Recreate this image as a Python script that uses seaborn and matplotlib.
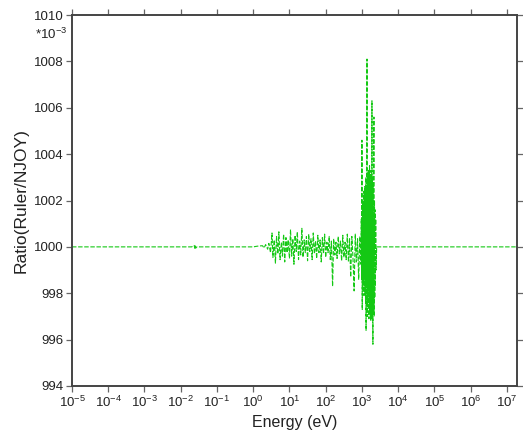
import numpy as np
import pandas as pd
import seaborn as sns
import matplotlib
matplotlib.use("Agg")
import matplotlib.pyplot as plt
from matplotlib.ticker import FixedLocator, NullLocator, FixedFormatter

# Thermal / low-energy points (eV) and ratio (x 1e-3)
energy_low = [1e-5, 1e-3, 0.02, 0.0235, 0.0245, 0.0253, 0.026, 0.028, 0.1, 1.0, 1.3]
ratio_low = [1000.0, 1000.0, 1000.0, 1000.06, 999.94, 1000.06, 999.95, 1000.0, 1000.0, 1000.0, 1000.03]

# Resolved resonance region
energy_res = [1.8, 2.0, 2.2, 2.5, 2.7, 3.0, 3.3, 3.5, 3.8, 4.1,
              4.4, 4.8, 5.1, 5.5, 6.0, 6.4, 6.9, 7.4, 8.0, 8.6,
              9.2, 10, 10.7, 11.5, 12.4, 13.3, 14.3, 15.4, 16.5, 17.8,
              19.1, 20.5, 22, 23.7, 25.5, 27.4, 29.4, 31.6, 34, 36.5,
              39.3, 42.2, 45.4, 48.8, 52.5, 56.4, 60.6, 65.2, 70.1, 75.3,
              81, 87, 93.5, 100, 108, 116, 125, 134, 144, 155,
              166, 179, 192, 206, 222, 238, 256, 275, 296, 318,
              342, 367, 395, 425, 456, 490, 527, 567, 609, 655,
              704, 757, 813, 875, 940]
ratio_res = [1000.05, 999.95, 1000.1, 999.9, 1000.15, 999.75, 1000.6, 999.55, 1000.3, 999.3,
             1000.45, 999.7, 1000.65, 999.45, 1000.2, 999.6, 1000.55, 999.35, 1000.4, 999.75,
             1000.3, 999.5, 1000.75, 999.6, 1000.35, 999.25, 1000.5, 999.8, 1000.65, 999.45,
             1000.25, 999.65, 1000.8, 999.55, 1000.3, 999.75, 1000.45, 999.4, 1000.55, 999.8,
             1000.35, 999.45, 1000.6, 999.7, 1000.25, 999.5, 1000.5, 999.75, 1000.3, 999.35,
             1000.4, 999.7, 1000.55, 999.55, 1000.2, 999.75, 1000.45, 999.45, 1000.25, 998.3,
             1000.35, 999.65, 1000.2, 999.5, 1000.45, 999.7, 1000.25, 999.4, 1000.5, 999.55,
             1000.2, 999.45, 1000.55, 999.35, 1000.35, 998.7, 1000.45, 999.5, 998.1, 1000.55,
             999.35, 1000.35, 998.6, 1000.45, 999.25]

# Upper resonance region (dense structure near 1-2.5 keV)
energy_hi = [960, 980, 1000, 1020, 1040, 1060, 1080, 1100, 1120, 1140,
             1160, 1180, 1200, 1220, 1240, 1260, 1280, 1300, 1320, 1340,
             1360, 1380, 1400, 1420, 1440, 1460, 1480, 1500, 1520, 1540,
             1560, 1580, 1600, 1620, 1640, 1660, 1680, 1700, 1720, 1740,
             1760, 1780, 1800, 1830, 1860, 1890, 1920, 1950, 1980, 2010,
             2040, 2070, 2100, 2140, 2180, 2220, 2260, 2300, 2350, 2400,
             2450]
ratio_hi = [1001.2, 998.6, 1004.6, 997.3, 1002.0, 998.2, 1001.8, 998.5, 1002.4, 997.9,
            1001.5, 998.8, 1002.6, 998.0, 1002.2, 997.6, 1003.0, 996.4, 1002.5, 998.3,
            1003.4, 1008.1, 997.0, 1002.8, 998.0, 1003.2, 997.4, 1002.6, 998.2, 1003.3,
            996.9, 1002.9, 997.8, 1003.5, 997.2, 1002.7, 998.0, 1003.1, 997.0, 1002.5,
            996.8, 1003.3, 997.5, 1002.8, 997.1, 1006.3, 996.9, 1003.0, 997.4, 995.8,
            1002.6, 997.2, 1002.9, 1005.6, 997.0, 1002.0, 997.8, 1001.6, 998.3, 1001.2,
            999.0]

# Fast region
energy_fast = [2550, 1e4, 1e7, 2e7]
ratio_fast = [1000.0, 1000.0, 1000.0, 1000.0]

xtick_vals = [10.0 ** k for k in range(-5, 8)]
xtick_labels = [r"$10^{%d}$" % k for k in range(-5, 8)]
ytick_vals = [994, 996, 998, 1000, 1002, 1004, 1006, 1008, 1010]

df = pd.DataFrame({
    "energy": energy_low + energy_res + energy_hi + energy_fast,
    "ratio": ratio_low + ratio_res + ratio_hi + ratio_fast,
})

sns.set_style("ticks")
plt.rcParams["font.family"] = ["Liberation Sans", "DejaVu Sans"]
plt.rcParams["mathtext.default"] = "regular"

fig = plt.figure(figsize=(5.23, 4.48), dpi=100)
ax = fig.add_axes([0.1377, 0.1384, 0.8508, 0.8281])

sns.lineplot(data=df, x="energy", y="ratio", sort=False, estimator=None,
             ax=ax, color="#14c814", linewidth=0.8, linestyle=(0, (4, 1.5)))

ax.set_xscale("log")
ax.set_xlim(1e-5, 1.9e7)
ax.set_ylim(994, 1010)
ax.xaxis.set_major_locator(FixedLocator(xtick_vals))
ax.xaxis.set_major_formatter(FixedFormatter(xtick_labels))
ax.xaxis.set_minor_locator(NullLocator())
ax.set_yticks(ytick_vals)
ax.set_yticklabels([str(v) for v in ytick_vals])

for sp in ax.spines.values():
    sp.set_visible(True)
    sp.set_color("#444444")
    sp.set_linewidth(1.4)

ax.tick_params(axis="both", which="major", direction="out", length=4,
               width=0.9, color="#666666", labelsize=9.5, labelcolor="#222222",
               top=True, right=True, pad=2)

ax.set_xlabel("Energy (eV)", fontsize=11.5, color="#222222", labelpad=4)
ax.set_ylabel("Ratio(Ruler/NJOY)", fontsize=12.5, color="#222222", labelpad=4)
fig.text(0.067, 0.912, r"*$10^{-3}$", fontsize=9.5, color="#222222")

fig.savefig("out.png", dpi=100)
